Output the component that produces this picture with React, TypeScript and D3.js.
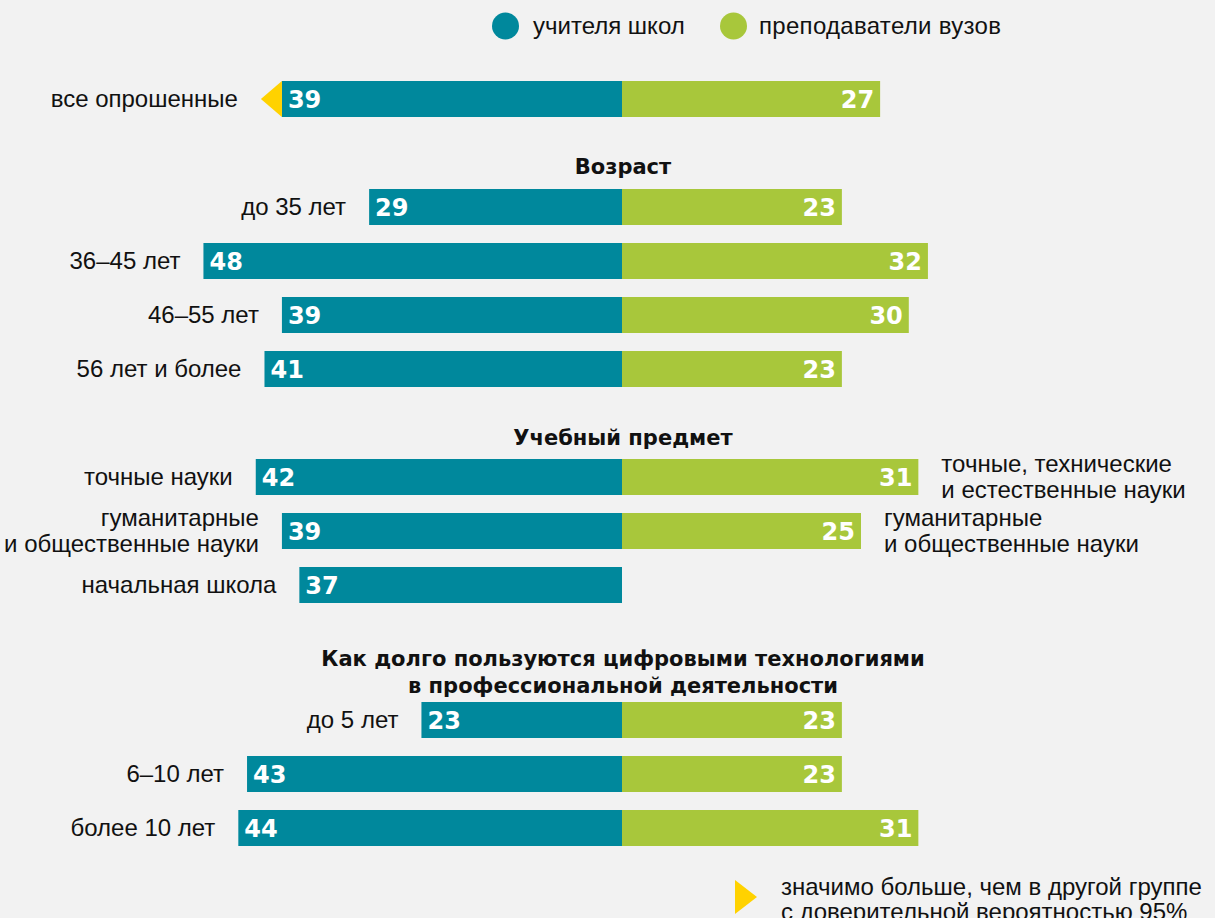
import React from "react";
import * as d3 from "d3";

const categories = [
  "все опрошенные",
  "до 35 лет",
  "36–45 лет",
  "46–55 лет",
  "56 лет и более",
  "точные науки",
  "гуманитарные\nи общественные науки",
  "начальная школа",
  "до 5 лет",
  "6–10 лет",
  "более 10 лет",
];
const teachers = [39, 29, 48, 39, 41, 42, 39, 37, 23, 43, 44];
const professors: (number | null)[] = [27, 23, 32, 30, 23, 31, 25, null, 23, 23, 31];
const rightLabels = [
  "", "", "", "", "",
  "точные, технические\nи естественные науки",
  "гуманитарные\nи общественные науки",
  "", "", "", "",
];
const significantTeachers = [true, false, false, false, false, false, false, false, false, false, false];
const groupHeaders = [
  "Возраст",
  "Учебный предмет",
  "Как долго пользуются цифровыми технологиями\nв профессиональной деятельности",
];
const seriesNames = ["учителя школ", "преподаватели вузов"];
const footnote = "значимо больше, чем в другой группе\nс доверительной вероятностью 95%";

const W = 1215;
const H = 918;
const TEAL = "#00889c";
const GREEN = "#a8c73b";
const YELLOW = "#ffd200";
const BG = "#f2f2f2";
const FONT = "'Liberation Sans', Arial, Helvetica, sans-serif";
const BFONT = "'DejaVu Sans', 'Liberation Sans', Arial, sans-serif";

const CX = 622;
const BAR_H = 36;
// layout slots (rows) per category and per header
const rowSlot = [0, 2, 3, 4, 5, 7, 8, 9, 11.5, 12.5, 13.5];
const headerSlot = [1.26, 6.28, 10.37];
const y = d3.scaleLinear().domain([0, 1]).range([99, 153]);

const xLeft = d3.scaleLinear().domain([0, 50]).range([CX, CX - 436]);
const xRight = d3.scaleLinear().domain([0, 50]).range([CX, CX + 478]);

function MultiText({ text, x, y0, lh, anchor, size, weight, family, ls }: any) {
  const lines = text.split("\n");
  const start = y0 - ((lines.length - 1) * lh) / 2;
  return (
    <text
      x={x}
      textAnchor={anchor}
      fontSize={size}
      fontWeight={weight}
      fontFamily={family}
      letterSpacing={ls || 0}
      fill="#111"
    >
      {lines.map((l: string, i: number) => (
        <tspan key={i} x={x} y={start + i * lh} dy="0.35em">
          {l}
        </tspan>
      ))}
    </text>
  );
}

export default function App() {
  return (
    <svg
      width={W}
      height={H}
      style={{ position: "absolute", left: 0, top: 0, background: BG }}
    >
      <rect x={0} y={0} width={W} height={H} fill={BG} />
      {/* legend */}
      <circle cx={505.5} cy={26} r={13.5} fill={TEAL} />
      <text x={533} y={26} dy="0.35em" fontSize={24} fontFamily={FONT} fill="#111">
        {seriesNames[0]}
      </text>
      <circle cx={733.5} cy={26} r={13.5} fill={GREEN} />
      <text x={759} y={26} dy="0.35em" fontSize={24} fontFamily={FONT} fill="#111" letterSpacing={0.3}>
        {seriesNames[1]}
      </text>

      {/* headers */}
      {groupHeaders.map((h, i) => (
        <MultiText
          key={i}
          text={h}
          x={CX + 1}
          y0={y(headerSlot[i]) + (h.includes("\n") ? 13.5 : 0)}
          lh={27}
          anchor="middle"
          size={21}
          weight={700}
          family={BFONT}
        />
      ))}

      {categories.map((c, i) => {
        const cy = y(rowSlot[i]);
        const t = teachers[i];
        const p = professors[i];
        const lx = xLeft(t);
        const sig = significantTeachers[i];
        const labelX = (sig ? lx - 21 : lx) - 23;
        return (
          <g key={i}>
            <rect x={lx} y={cy - BAR_H / 2} width={CX - lx} height={BAR_H} fill={TEAL} />
            {sig && (
              <polygon
                points={`${lx},${cy - BAR_H / 2} ${lx - 21},${cy} ${lx},${cy + BAR_H / 2}`}
                fill={YELLOW}
              />
            )}
            <text
              x={lx + 6}
              y={cy}
              dy="0.36em"
              fontSize={24}
              fontWeight={700}
              fontFamily={BFONT}
              fill="#fff"
            >
              {t}
            </text>
            <MultiText text={c} x={labelX} y0={cy} lh={26} anchor="end" size={24} weight={400} family={FONT} />
            {p != null && (
              <g>
                <rect x={CX} y={cy - BAR_H / 2} width={xRight(p) - CX} height={BAR_H} fill={GREEN} />
                <text
                  x={xRight(p) - 6}
                  y={cy}
                  dy="0.36em"
                  textAnchor="end"
                  fontSize={24}
                  fontWeight={700}
                  fontFamily={BFONT}
                  fill="#fff"
                >
                  {p}
                </text>
                {rightLabels[i] && (
                  <MultiText
                    text={rightLabels[i]}
                    x={xRight(p) + 23}
                    y0={cy}
                    lh={26}
                    anchor="start"
                    size={24}
                    weight={400}
                    family={FONT}
                  />
                )}
              </g>
            )}
          </g>
        );
      })}

      {/* footnote */}
      <polygon points={`735,880 757,897 735,914`} fill={YELLOW} />
      <MultiText text={footnote} x={781} y0={899} lh={25} anchor="start" size={24} weight={400} family={FONT} />
    </svg>
  );
}
